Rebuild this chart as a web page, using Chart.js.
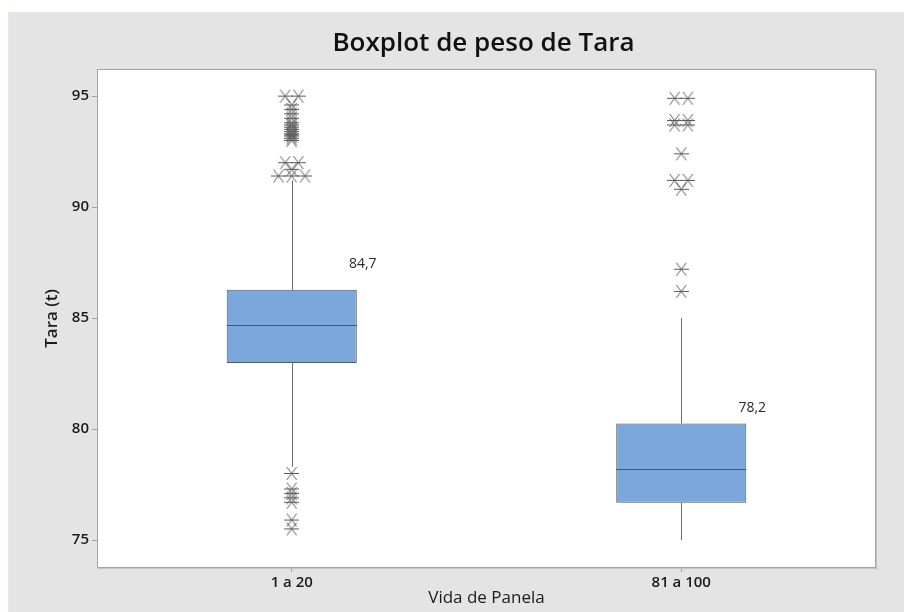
<!DOCTYPE html>
<html>
<head>
<meta charset="utf-8">
<script src="https://cdn.jsdelivr.net/npm/chart.js@4.4.1/dist/chart.umd.min.js"></script>
<style>
html, body { margin: 0; padding: 0; background: #ffffff; }
canvas { display: block; }
</style>
</head>
<body>
<canvas id="chart" width="904" height="612"></canvas>
<script>
// Boxplot of tare weight by ladle life group
const categories = ['1 a 20', '81 a 100'];
const q1Values = [82.97, 76.68];
const medianValues = [84.7, 78.2];
const q3Values = [86.27, 80.25];
const whiskerLow = [78.3, 75.0];
const whiskerHigh = [91.2, 85.0];

// Points beyond the whiskers (tied values are spread sideways)
const outliers1 = [
  95.0, 95.0, 94.6, 94.4, 94.2, 94.0,
  93.8, 93.7, 93.6, 93.5, 93.4, 93.3, 93.25, 93.2, 93.1, 93.0,
  92.0, 92.0, 91.7, 91.4, 91.4, 91.4,
  78.0, 77.3, 77.1, 76.9, 76.7, 75.9, 75.5
];
const outliers2 = [
  94.9, 94.9, 93.9, 93.9, 93.7, 93.7, 92.4,
  91.2, 91.2, 90.8, 87.2, 86.2
];
const yTicks = [75, 80, 85, 90, 95];

const FONT = '"Open Sans", "Noto Sans", sans-serif';
const TEXT = '#1b1b1b';

function jitterPoints(values, groupIndex) {
  const counts = {};
  values.forEach(v => { counts[v] = (counts[v] || 0) + 1; });
  const seen = {};
  return values.map(v => {
    const n = counts[v];
    const k = seen[v] = (seen[v] === undefined ? 0 : seen[v] + 1);
    return { x: groupIndex + (k - (n - 1) / 2) * 0.034, y: v };
  });
}

function makeStar() {
  const c = document.createElement('canvas');
  c.width = 15; c.height = 15;
  const g = c.getContext('2d');
  g.strokeStyle = '#5c5c5c';
  g.lineWidth = 1;
  g.beginPath();
  g.moveTo(0, 7.5); g.lineTo(15, 7.5);
  g.moveTo(2.5, 1); g.lineTo(12.5, 14);
  g.moveTo(12.5, 1); g.lineTo(2.5, 14);
  g.stroke();
  return c;
}
const star = makeStar();

const outlierData = jitterPoints(outliers1, 0).concat(jitterPoints(outliers2, 1));

const boxParts = {
  id: 'boxParts',
  beforeDraw(chart) {
    const { ctx, chartArea: a, width, height } = chart;
    ctx.save();
    ctx.fillStyle = '#ffffff';
    ctx.fillRect(0, 0, width, height);
    ctx.fillStyle = '#e4e4e4';
    ctx.fillRect(8, 12, width - 8, height - 12);
    ctx.fillStyle = '#ece8dc';
    ctx.fillRect(8, 12, width - 8, 1);
    ctx.fillRect(8, 12, 1, height - 12);
    ctx.fillStyle = '#ffffff';
    ctx.fillRect(a.left, a.top, a.right - a.left, a.bottom - a.top);
    ctx.restore();
  },
  beforeDatasetsDraw(chart) {
    const { ctx } = chart;
    const y = chart.scales.y;
    const bars = chart.getDatasetMeta(0).data;
    ctx.save();
    ctx.strokeStyle = '#6a6a6a';
    ctx.lineWidth = 1;
    bars.forEach((bar, i) => {
      const x = Math.round(bar.x) + 0.5;
      ctx.beginPath();
      ctx.moveTo(x, y.getPixelForValue(whiskerLow[i]));
      ctx.lineTo(x, y.getPixelForValue(q1Values[i]));
      ctx.moveTo(x, y.getPixelForValue(q3Values[i]));
      ctx.lineTo(x, y.getPixelForValue(whiskerHigh[i]));
      ctx.stroke();
    });
    ctx.restore();
  },
  afterDatasetsDraw(chart) {
    const { ctx, chartArea: a } = chart;
    const y = chart.scales.y;
    const bars = chart.getDatasetMeta(0).data;
    ctx.save();
    bars.forEach((bar, i) => {
      const my = Math.round(y.getPixelForValue(medianValues[i])) + 0.5;
      ctx.strokeStyle = '#4a5563';
      ctx.lineWidth = 1;
      ctx.beginPath();
      ctx.moveTo(bar.x - bar.width / 2, my);
      ctx.lineTo(bar.x + bar.width / 2, my);
      ctx.stroke();
      ctx.fillStyle = '#2a2a2a';
      ctx.font = '14px ' + FONT;
      ctx.textAlign = 'center';
      ctx.textBaseline = 'middle';
      ctx.fillText(medianValues[i].toFixed(1).replace('.', ','), bar.x + 71, my - 61);
    });
    // plot frame with a soft shade on the right and bottom
    ctx.fillStyle = '#c4c4c4';
    ctx.fillRect(a.right, a.top + 1, 1, a.bottom - a.top + 1);
    ctx.fillRect(a.left + 1, a.bottom, a.right - a.left, 1);
    ctx.strokeStyle = '#a2a2a2';
    ctx.lineWidth = 1;
    ctx.strokeRect(a.left + 0.5, a.top + 0.5, a.right - a.left - 1, a.bottom - a.top - 1);
    ctx.restore();
  },
  afterDraw(chart) {
    const { ctx, chartArea: a } = chart;
    ctx.save();
    ctx.fillStyle = '#111111';
    ctx.font = '600 26px ' + FONT;
    ctx.textAlign = 'center';
    ctx.textBaseline = 'middle';
    ctx.fillText('Boxplot de peso de Tara', (a.left + a.right) / 2 - 3, 44);
    ctx.restore();
  }
};

new Chart(document.getElementById('chart'), {
  type: 'bar',
  data: {
    labels: categories,
    datasets: [
      {
        label: 'Tara',
        data: categories.map((_, i) => [q1Values[i], q3Values[i]]),
        backgroundColor: '#7ba7da',
        borderColor: '#4f5a66',
        borderWidth: 1,
        borderSkipped: false,
        barPercentage: 0.334,
        categoryPercentage: 1,
        grouped: false,
        xAxisID: 'x',
        yAxisID: 'y',
        order: 2
      },
      {
        type: 'scatter',
        label: 'Atípicos',
        data: outlierData,
        pointStyle: star,
        xAxisID: 'xj',
        yAxisID: 'y',
        order: 1
      }
    ]
  },
  options: {
    responsive: false,
    animation: false,
    devicePixelRatio: 1,
    layout: { padding: { top: 69, right: 28, bottom: 0, left: 0 } },
    plugins: {
      legend: { display: false },
      tooltip: { enabled: false },
      title: { display: false }
    },
    scales: {
      x: {
        type: 'category',
        offset: true,
        grid: { offset: false, drawOnChartArea: false, drawTicks: true, tickLength: 4, color: '#a0a0a0' },
        border: { display: false },
        ticks: { color: TEXT, padding: 2, font: { family: FONT, size: 15, weight: '600' } },
        title: {
          display: true, text: 'Vida de Panela', color: TEXT,
          font: { family: FONT, size: 17, weight: 'normal' },
          padding: { top: 0, bottom: 4 }
        },
        afterFit(scale) { scale.height = 44; }
      },
      xj: {
        type: 'linear',
        min: -0.5,
        max: 1.5,
        offset: false,
        grace: 0,
        display: false
      },
      y: {
        type: 'linear',
        min: 73.74,
        max: 96.22,
        afterBuildTicks(scale) { scale.ticks = yTicks.map(v => ({ value: v })); },
        grid: { drawOnChartArea: false, drawTicks: true, tickLength: 5, color: '#a0a0a0' },
        border: { display: false },
        ticks: { color: TEXT, padding: 3, font: { family: FONT, size: 15, weight: '600' } },
        title: {
          display: true, text: 'Tara (t)', color: TEXT,
          font: { family: FONT, size: 17, weight: '600' },
          padding: { top: 42, bottom: 0 }
        },
        afterFit(scale) { scale.width = 97; }
      }
    }
  },
  plugins: [boxParts]
});
</script>
</body>
</html>
